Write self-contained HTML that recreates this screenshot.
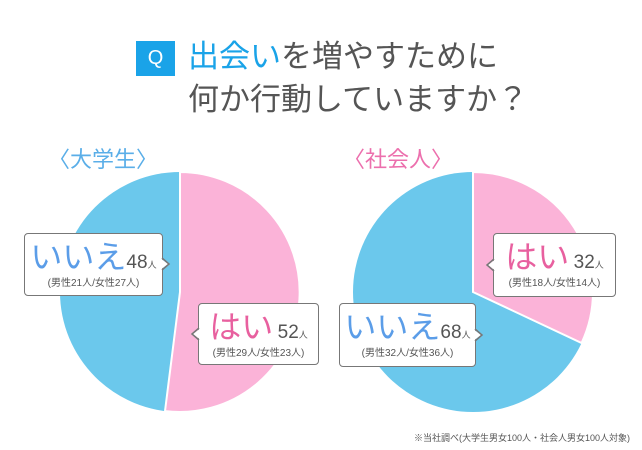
<!DOCTYPE html>
<html><head><meta charset="utf-8"><style>
body{margin:0;width:642px;height:450px;background:#fff;overflow:hidden;position:relative;font-family:"Liberation Sans","Noto Sans CJK JP",sans-serif}
.a{position:absolute;white-space:nowrap}
.box{position:absolute;background:#fff;border:1.5px solid #777;border-radius:4px;box-sizing:border-box;text-align:center}
.big{font-size:32px;line-height:34px}
.n{font-size:19px;color:#555}
.p{font-size:10px;color:#555}
.s{font-size:9px;color:#555}
</style></head><body>
<div class="a" style="left:136px;top:41px;width:39px;height:35px;background:#1aa3e8;color:#fff;font-size:20px;line-height:35px;text-align:center">Q</div>
<div class="a" style="left:188px;top:37px;font-size:31px;line-height:40px;color:#555"><span style="color:#1aa3e8">出会い</span>を増やすために</div>
<div class="a" style="left:188px;top:80px;font-size:31px;line-height:40px;color:#555">何か行動していますか？</div>
<div class="a" style="left:48px;top:142px;font-size:22px;color:#5aaee8">〈大学生〉</div>
<div class="a" style="left:343px;top:142px;font-size:22px;color:#ec6fad">〈社会人〉</div>
<svg class="a" style="left:0;top:0" width="642" height="450">
<circle cx="180" cy="292" r="120" fill="#6bc8ec"/>
<path d="M180,292 L180,172 A120,120 0 1 1 165,411.1 Z" fill="#fbb3d8" stroke="#fff" stroke-width="2"/>
<circle cx="473" cy="292" r="120" fill="#6bc8ec"/>
<path d="M473,292 L473,172 A120,120 0 0 1 581.6,343 Z" fill="#fbb3d8" stroke="#fff" stroke-width="2"/>
</svg>
<div class="box" style="left:24px;top:233px;width:139px;height:63px"><div style="margin-top:6px"><span class="big" style="color:#5b9de8">いいえ</span><span class="n">48</span><span class="s">人</span></div><div class="p">(男性21人/女性27人)</div></div>
<div class="box" style="left:198px;top:303px;width:121px;height:62px"><div style="margin-top:6px"><span class="big" style="color:#e8609f">はい</span> <span class="n">52</span><span class="s">人</span></div><div class="p">(男性29人/女性23人)</div></div>
<div class="box" style="left:493px;top:233px;width:123px;height:64px"><div style="margin-top:6px"><span class="big" style="color:#e8609f">はい</span> <span class="n">32</span><span class="s">人</span></div><div class="p">(男性18人/女性14人)</div></div>
<div class="box" style="left:339px;top:303px;width:137px;height:64px"><div style="margin-top:6px"><span class="big" style="color:#5b9de8">いいえ</span><span class="n">68</span><span class="s">人</span></div><div class="p">(男性32人/女性36人)</div></div>
<svg class="a" style="left:0;top:0" width="642" height="450">
<path d="M160,258 L168,264 L160,270 Z" fill="#fff"/>
<path d="M162,258 L169,264 L162,270" fill="none" stroke="#777" stroke-width="1.5"/>
<path d="M201,328 L193,334 L201,340 Z" fill="#fff"/>
<path d="M199,328 L192,334 L199,340" fill="none" stroke="#777" stroke-width="1.5"/>
<path d="M496,259 L488,265 L496,271 Z" fill="#fff"/>
<path d="M494,259 L487,265 L494,271" fill="none" stroke="#777" stroke-width="1.5"/>
<path d="M473,329 L481,335 L473,341 Z" fill="#fff"/>
<path d="M475,329 L482,335 L475,341" fill="none" stroke="#777" stroke-width="1.5"/>
</svg>
<div class="a" style="right:12px;top:431px;font-size:9px;color:#555">※当社調べ(大学生男女100人・社会人男女100人対象)</div>
</body></html>
